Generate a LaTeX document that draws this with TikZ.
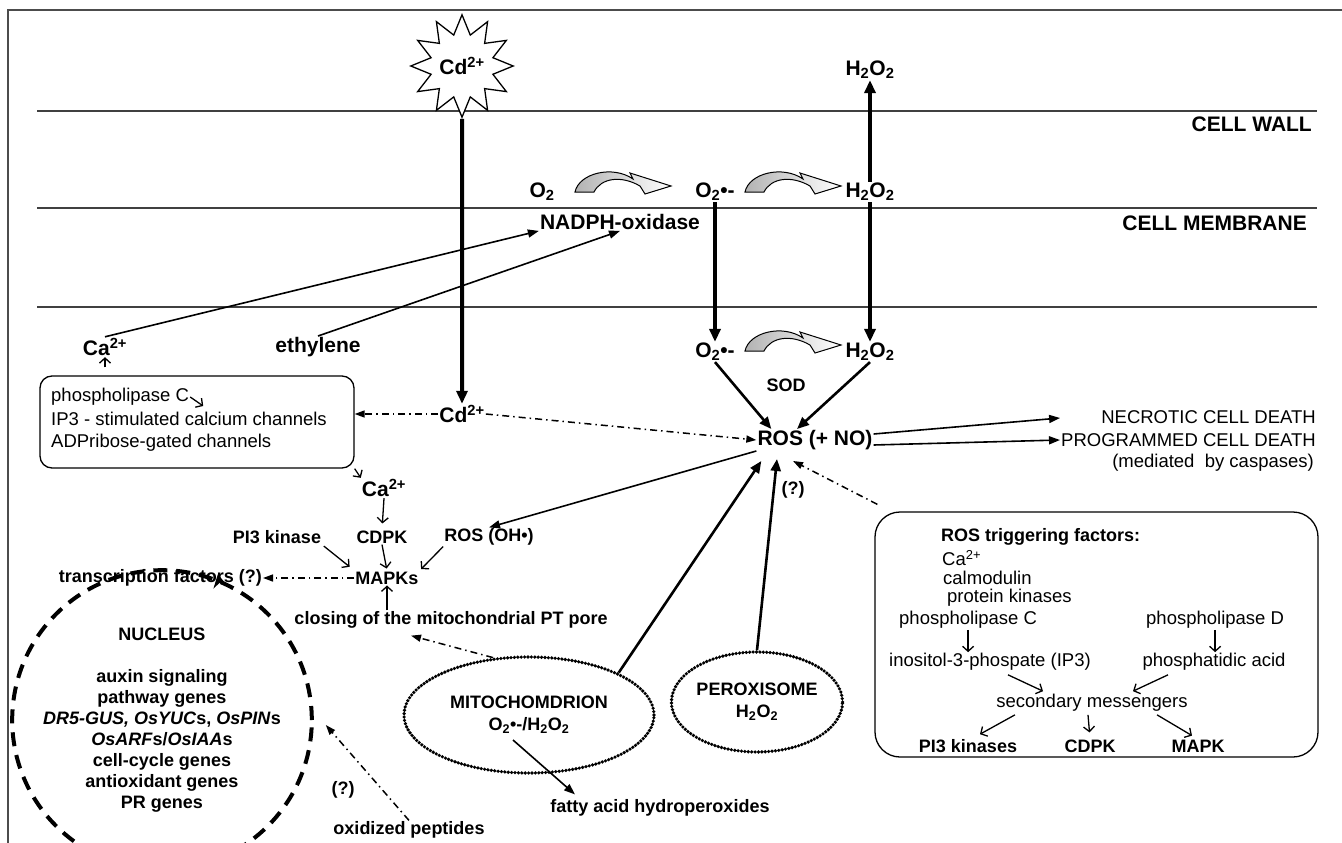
\documentclass[tikz,border=0pt]{standalone}
\usepackage{fontspec}
\setmainfont{Liberation Sans}
\usetikzlibrary{shapes.geometric,arrows.meta,calc}
\tikzset{
lbl/.style={font=\fontsize{21}{24}\selectfont\bfseries,inner sep=1pt},
sml/.style={font=\fontsize{18}{21}\selectfont\bfseries,inner sep=1pt},
txt/.style={font=\fontsize{18.5}{21}\selectfont,inner sep=1pt},
frame/.style={line width=1.5pt,draw=black!70},
layer/.style={line width=1.6pt,draw=black!75},
fat/.style={line width=4pt,-{Triangle[length=13pt,width=11pt]}},
med/.style={line width=2.6pt,-{Triangle[length=12pt,width=10pt]}},
arr/.style={line width=1.6pt,-{Triangle[length=11pt,width=8pt]}},
chev/.style={line width=1.3pt,-{Straight Barb[length=5pt,width=11pt]}},
dashdot/.style={line width=1.5pt,dash pattern=on 7pt off 4pt on 1.5pt off 4pt,-{Triangle[length=10pt,width=7pt]}},
organelle/.style={ellipse,draw,line width=3.6pt,dash pattern=on 0pt off 3.4pt,line cap=round,align=center,inner sep=0pt,font=\fontsize{18}{22}\selectfont\bfseries},
roundbox/.style={draw,line width=1.3pt,rounded corners=12pt},
nucleus/.style={circle,draw,line width=4pt,dash pattern=on 14pt off 9pt,align=center,inner sep=0pt,minimum size=244pt,font=\fontsize{18}{21}\selectfont\bfseries},
swoosh/.pic={
\draw[line width=1pt,left color=gray!60,right color=white]
(0,0) .. controls (4,-19) and (38,-27) .. (58,-13) -- (55,-19) -- (96,-6) -- (70,2) -- (65,-6) .. controls (46,-17) and (26,-14) .. (19,0) -- cycle;
}
}
\begin{document}
\begin{tikzpicture}[x=1pt,y=-1pt]
\useasboundingbox (0,0) rectangle (1342,843);
\draw[frame] (8,843) -- (8,10) -- (1342,10);
\draw[layer] (37,111) -- (1317,111);
\draw[layer] (37,208) -- (1317,208);
\draw[layer] (37,307) -- (1317,307);
\node[lbl,anchor=east] (wall) at (1313,124) {CELL WALL};
\node[lbl,anchor=east] (memb) at (1308,223) {CELL MEMBRANE};

\node[star,star points=12,star point ratio=1.6,draw,fill=white,line width=1.3pt,minimum size=88pt,lbl,inner sep=0pt] (cdout) at (462,66) {Cd\textsuperscript{2+}};
\node[lbl] (hpout) at (870,70) {H\textsubscript{2}O\textsubscript{2}};
\node[lbl] (otwo) at (542,192) {O\textsubscript{2}};
\node[lbl] (supm) at (715,192) {O\textsubscript{2}•-};
\node[lbl] (hpm) at (870,192) {H\textsubscript{2}O\textsubscript{2}};
\node[lbl] (nadph) at (620,222) {NADPH-oxidase};
\pic at (575,192) {swoosh};
\pic at (745,192) {swoosh};

\node[lbl] (supl) at (715,352) {O\textsubscript{2}•-};
\node[lbl] (hpl) at (870,352) {H\textsubscript{2}O\textsubscript{2}};
\node[sml] (sod) at (786,385) {SOD};
\pic at (745,351) {swoosh};
\node[lbl] (ros) at (815,440) {ROS (+ NO)};
\node[txt,anchor=east] (necro) at (1317,417) {NECROTIC CELL DEATH};
\node[txt,anchor=east] (pcd) at (1317,440) {PROGRAMMED CELL DEATH};
\node[txt,anchor=east] (casp) at (1315,463) {(mediated\ \ by caspases)};

\node[lbl] (caout) at (105,347) {Ca\textsuperscript{2+}};
\node[lbl] (eth) at (318,347) {ethylene};
\node[roundbox,minimum width=314pt,minimum height=92pt] (chan) at (197,422) {};
\node[txt,anchor=west] (plc) at (50,397) {phospholipase C};
\node[txt,anchor=west] (ipch) at (50,419) {IP3 - stimulated calcium channels};
\node[txt,anchor=west] (adp) at (50,443) {ADPribose-gated channels};
\node[lbl] (cdin) at (462,414) {Cd\textsuperscript{2+}};

\node[lbl] (cain) at (384,488) {Ca\textsuperscript{2+}};
\node[sml] (pik) at (277,537) {PI3 kinase};
\node[sml] (cdpk) at (382,537) {CDPK};
\node[sml] (rosoh) at (489,537) {ROS (OH•)};
\node[sml] (mapk) at (387,578) {MAPKs};
\node[sml,anchor=east] (tf) at (263,578) {transcription factors (?)};
\node[sml] (pore) at (451,620) {closing of the mitochondrial PT pore};

\node[nucleus] (nuc) at (162,720) {NUCLEUS\\[21pt]auxin signaling\\pathway genes\\\textit{DR5-GUS, OsYUC}s, \textit{OsPIN}s\\\textit{OsARF}s/\textit{OsIAA}s\\cell-cycle genes\\antioxidant genes\\PR genes};
\node[sml] (qnuc) at (343,790) {(?)};
\node[sml] (oxp) at (409,830) {oxidized peptides};
\node[organelle,minimum width=250pt,minimum height=116pt] (mito) at (529,715) {MITOCHOMDRION\\O\textsubscript{2}•-/H\textsubscript{2}O\textsubscript{2}};
\node[organelle,minimum width=132pt,minimum height=100pt] (perox) at (757,702) {PEROXISOME\\H\textsubscript{2}O\textsubscript{2}};
\node[sml] (fatty) at (660,808) {fatty acid hydroperoxides};
\node[sml] (qros) at (793,490) {(?)};

\node[roundbox,rounded corners=25pt,minimum width=443pt,minimum height=245pt] (trig) at (1096.5,634.5) {};
\node[sml,anchor=west] (trtitle) at (940,537) {ROS triggering factors:};
\node[txt,anchor=west] (trca) at (941,558) {Ca\textsuperscript{2+}};
\node[txt,anchor=west] (calm) at (942,578) {calmodulin};
\node[txt,anchor=west] (pkin) at (946,598) {protein kinases};
\node[txt,anchor=west] (plcr) at (898,620) {phospholipase C};
\node[txt,anchor=west] (pld) at (1145,620) {phospholipase D};
\node[txt] (iptr) at (990,662) {inositol-3-phospate (IP3)};
\node[txt] (pa) at (1214,662) {phosphatidic acid};
\node[txt] (sm) at (1092,703) {secondary messengers};
\node[sml] (pi3k) at (968,746) {PI3 kinases};
\node[sml] (cdpkr) at (1090,746) {CDPK};
\node[sml] (mapkr) at (1198,746) {MAPK};

\draw[fat] (cdout.south) -- (cdin.north);
\draw[fat] (hpm.north) -- (hpout.south);
\draw[fat] (supm.south) -- (supl.north);
\draw[fat] (hpm.south) -- (hpl.north);
\draw[arr] (caout.north) -- (nadph.south west);
\draw[arr] (eth.north) -- (nadph.south);
\draw[chev,shorten <=8pt] (caout.south |- chan.north) -- (caout.south);
\draw[chev] (plc.east) -- ++(13,9);
\draw[dashdot] (cdin.west) -- (chan.east |- cdin);
\draw[dashdot] (cdin.east) -- (ros.west);
\draw[med] (supl.south) -- ($(ros.north west)+(15,0)$);
\draw[med] (hpl.south) -- ($(ros.north)+(-18,0)$);
\draw[arr] ($(ros.east)+(0,-6)$) -- ($(necro.west)+(-40,1)$);
\draw[arr] ($(ros.east)+(0,5)$) -- (pcd.west);
\draw[arr] (ros.south west) -- (rosoh.north);
\draw[chev] (chan.south east) -- (cain.north west);
\draw[chev,shorten >=6pt] (cain.south) -- (cdpk.north);
\draw[chev,shorten <=2pt,shorten >=6pt] (pik.south east) -- (mapk.north west);
\draw[chev,shorten >=2pt] (cdpk.south) -- (mapk.north);
\draw[chev,shorten >=2pt] (rosoh.south west) -- (mapk.north east);
\draw[dashdot] (mapk.west) -- (tf.east);
\draw[chev] (pore.north -| mapk) -- (mapk.south);
\draw[-{Stealth[length=13pt,width=14pt]},line width=4pt] (nuc.68) -- ++(-1,-5);
\draw[dashdot] (oxp.north) -- ($(nuc.east)+(12,5)$);
\draw[dashdot] (mito.122) -- ($(pore.south)+(-40,6)$);
\draw[arr] ($(mito.center)+(-16,25)$) -- ($(fatty.north)+(-85,-4)$);
\draw[med] (mito.north east) -- ($(ros.south west)+(5,10)$);
\draw[med] (perox.north) -- ($(ros.south)+(-38,8)$);
\draw[dashdot] ($(trig.north west)+(3,-7)$) -- ($(ros.south)+(-22,10)$);

\draw[chev] (plcr.south) -- (plcr.south |- iptr.north);
\draw[chev] (pld.south) -- (pld.south |- pa.north);
\draw[chev] ($(iptr.south)+(18,3)$) -- ($(sm.north)+(-49,-2)$);
\draw[chev] ($(pa.south)+(-46,3)$) -- ($(sm.north)+(41,-2)$);
\draw[chev] ($(sm.south)+(-77,2)$) -- ($(pi3k.north)+(12,-4)$);
\draw[chev,shorten >=6pt] ($(sm.south)+(-4,2)$) -- (cdpkr.north);
\draw[chev] ($(sm.south)+(65,2)$) -- ($(mapkr.north)+(-6,-3)$);
\end{tikzpicture}
\end{document}
